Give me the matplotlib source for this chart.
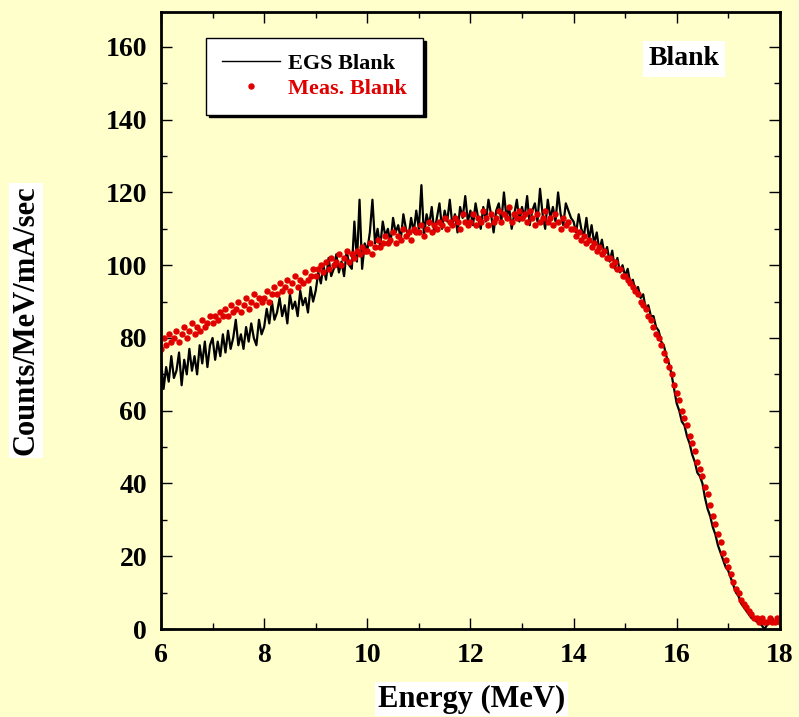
import numpy as np
import matplotlib
matplotlib.use("Agg")
import matplotlib.pyplot as plt
from matplotlib.ticker import MultipleLocator

plt.rcParams['font.family'] = ['Liberation Serif', 'DejaVu Serif']
plt.rcParams['font.weight'] = 'bold'

# energy grid (MeV), 0.05 MeV steps from 6 to 18
energy = np.arange(241) * 0.05 + 6.0

# EGS simulated blank spectrum (Counts/MeV/mA/sec)
egs_blank = [
    74, 66, 72, 68, 75, 69, 71, 76, 67, 74, 70, 77, 71, 75, 70, 78, 73, 79, 72, 78,
    80, 74, 79, 75, 81, 76, 82, 77, 80, 85, 78, 81, 77, 83, 79, 84, 80, 78, 85, 81,
    83, 88, 84, 90, 85, 87, 91, 86, 89, 84, 92, 88, 90, 86, 93, 89, 91, 87, 94, 90,
    93, 98, 95, 100, 96, 102, 97, 99, 103, 98, 101, 97, 104, 100, 99, 112, 101, 118, 99, 106,
    104, 109, 118, 106, 110, 105, 112, 108, 110, 106, 113, 109, 111, 107, 114, 110, 108, 113, 109, 115,
    110, 122, 108, 114, 111, 116, 109, 113, 117, 110, 115, 112, 118, 111, 114, 109, 116, 113, 119, 112,
    115, 111, 117, 113, 110, 116, 112, 118, 114, 109, 115, 117, 112, 120, 113, 116, 110, 114, 118, 112,
    116, 113, 119, 111, 115, 117, 112, 121, 114, 110, 118, 113, 116, 112, 120, 114, 111, 117, 115, 113,
    112, 109, 114, 110, 108, 113, 107, 111, 106, 109, 104, 107, 103, 105, 101, 104, 99, 102, 98, 100,
    97, 99, 95, 96, 93, 94, 91, 92, 88, 89, 86, 86, 83, 82, 79, 78, 75, 73, 70, 66,
    62, 60, 57, 56, 53, 51, 48, 46, 43, 42, 40, 36, 33, 31, 28, 26, 23, 21, 19, 17,
    16, 14, 12, 10, 9, 7, 6, 5, 4, 3, 3, 2, 2, 1, 0, 1, 2, 3, 2, 2,
    2,
]

# measured blank spectrum
meas_blank = [
    77, 80, 78, 81, 79, 80, 82, 79, 81, 83, 80, 82, 84, 81, 83, 82, 85, 83, 84, 86,
    84, 86, 85, 87, 86, 88, 86, 89, 87, 88, 90, 87, 89, 91, 88, 90, 92, 89, 91, 90,
    91, 93, 90, 92, 94, 92, 95, 93, 94, 96, 93, 95, 97, 94, 96, 95, 98, 96, 97, 99,
    97, 99, 100, 98, 101, 99, 102, 100, 101, 103, 100, 102, 104, 101, 103, 102, 104, 103, 105, 104,
    104, 106, 103, 105, 107, 105, 106, 108, 106, 107, 109, 106, 108, 107, 110, 108, 109, 107, 110, 109,
    109, 111, 108, 110, 112, 109, 111, 110, 112, 111, 113, 110, 112, 111, 113, 112, 110, 114, 112, 111,
    112, 114, 111, 113, 112, 115, 113, 111, 114, 112, 113, 115, 112, 114, 113, 116, 112, 114, 113, 115,
    113, 114, 112, 115, 113, 111, 114, 112, 113, 115, 112, 113, 111, 114, 112, 110, 113, 111, 112, 110,
    110, 108, 109, 107, 108, 106, 107, 105, 106, 104, 105, 103, 104, 102, 102, 100, 101, 99, 99, 97,
    97, 96, 95, 94, 93, 92, 90, 89, 88, 86, 85, 83, 81, 80, 78, 76, 74, 72, 70, 67,
    65, 63, 60, 58, 56, 53, 51, 49, 46, 44, 42, 39, 37, 34, 31, 29, 26, 24, 21, 19,
    17, 15, 13, 11, 10, 8, 7, 6, 5, 4, 3, 3, 2, 3, 2, 2, 3, 2, 2, 3,
    2,
]

bg = '#FFFFCC'
red = '#E00000'
fig = plt.figure(figsize=(7.99, 7.17), dpi=100, facecolor=bg)
ax = fig.add_axes([0.2015, 0.1227, 0.7745, 0.8606], facecolor=bg)

ax.plot(energy, egs_blank, color='black', lw=1.6, label='EGS Blank')
ax.plot(energy, meas_blank, ls='none', marker='o', ms=3.6, color=red,
        label='Meas. Blank')

ax.set_xlim(6, 18)
ax.set_ylim(0, 169.6)
ax.xaxis.set_major_locator(MultipleLocator(2))
ax.xaxis.set_minor_locator(MultipleLocator(1))
ax.yaxis.set_major_locator(MultipleLocator(20))
ax.yaxis.set_minor_locator(MultipleLocator(10))
ax.tick_params(which='both', direction='in', top=True, right=True)
ax.tick_params(which='major', length=8, width=1, labelsize=20, pad=10)
ax.tick_params(which='minor', length=4, width=1)
for s in ax.spines.values():
    s.set_linewidth(2)

box = dict(facecolor='white', edgecolor='none', pad=2)
ax.set_xlabel('Energy (MeV)', fontsize=22, fontweight='bold', bbox=box)
ax.set_ylabel('Counts/MeV/mA/sec', fontsize=22, fontweight='bold', bbox=box)
ax.xaxis.set_label_coords(0.502, -0.09)
ax.yaxis.set_label_coords(-0.195, 0.5)

ax.text(0.845, 0.924, 'Blank', transform=ax.transAxes, fontsize=20,
        fontweight='bold', ha='center', va='center',
        bbox=dict(facecolor='white', edgecolor='none', pad=4))

leg = ax.legend(loc='upper left', bbox_to_anchor=(0.073, 0.958), borderaxespad=0,
                fancybox=False, edgecolor='black', framealpha=1,
                shadow={'color': 'black', 'alpha': 1}, prop={'size': 16, 'weight': 'bold'},
                handlelength=2.6, handletextpad=0.4, borderpad=0.7, labelspacing=0.2)
leg.get_frame().set_linewidth(1)
leg.get_lines()[0].set_linewidth(1.0)
leg.get_texts()[1].set_color(red)

fig.savefig('out.png', dpi=100, facecolor=bg)
